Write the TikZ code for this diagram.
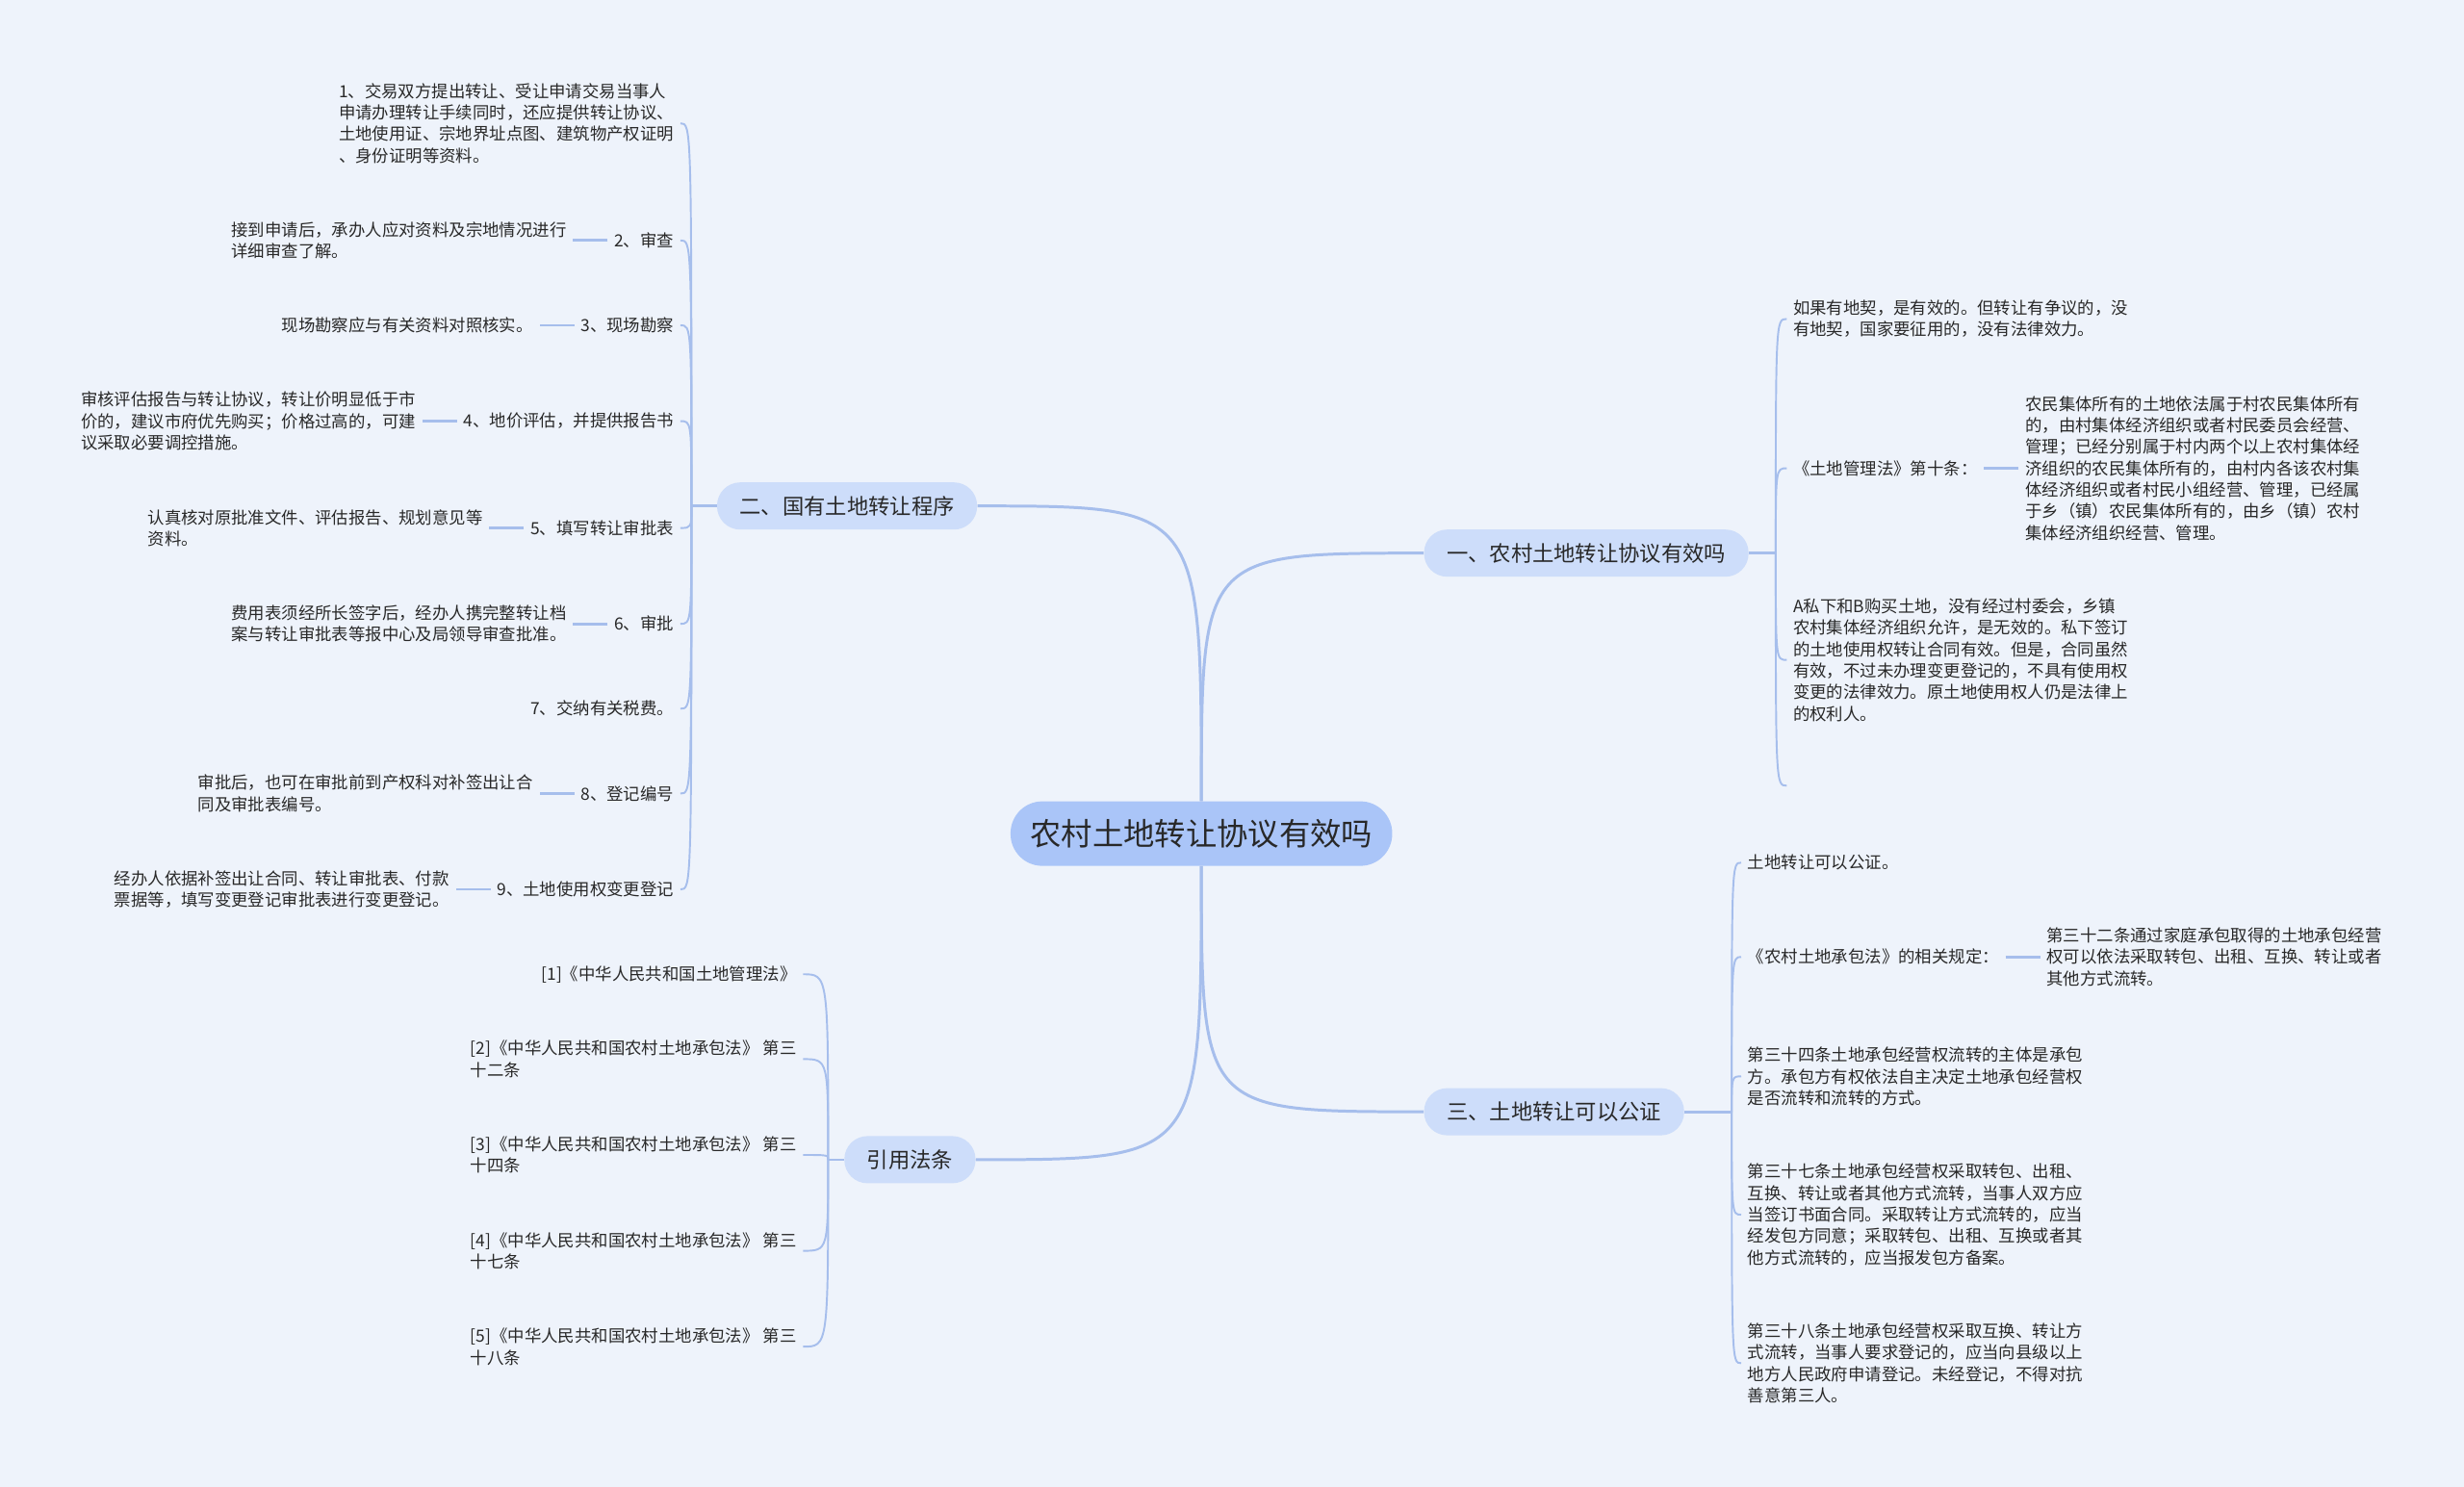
\documentclass[tikz,border=0pt]{standalone}
\usepackage{fontspec}
\setmainfont{Noto Sans CJK SC}
\usepackage{tikz}
\usetikzlibrary{positioning, calc}
\definecolor{paper}{RGB}{238, 243, 251}
\definecolor{rootfill}{RGB}{170, 197, 248}
\definecolor{branchfill}{RGB}{205, 221, 250}
\definecolor{wire}{RGB}{166, 190, 236}
\definecolor{ink}{RGB}{40, 40, 40}

\begin{document}
\begin{tikzpicture}[
    x=0.0326531cm, y=-0.0326531cm,
    root/.style={rectangle, rounded corners=0.66cm, fill=rootfill, minimum width=7.93cm, minimum height=1.34cm, text=ink, font=\fontsize{18.4pt}{22pt}\selectfont},
    branch/.style={rectangle, rounded corners=0.48cm, fill=branchfill, inner xsep=0.47cm, minimum height=0.98cm, text=ink, font=\fontsize{12.7pt}{15pt}\selectfont},
    leaf/.style={rectangle, inner xsep=0.13cm, inner ysep=2pt, align=left, text=ink, font=\fontsize{9.9pt}{12.7pt}\selectfont},
    trunk/.style={draw=wire, line width=1.7pt},
    twig/.style={draw=wire, line width=1.1pt},
    tie/.style={draw=wire, line width=1.6pt}
]
    \fill[paper] (0,0) rectangle (1568,946);
    \useasboundingbox (0,0) rectangle (1568,946);

    \node[root] (root) at (764.5,530.5) {农村土地转让协议有效吗};

    \node[branch, anchor=west] (rural) at (906,352) {一、农村土地转让协议有效吗};
    \node[branch, anchor=east] (state) at (622,322) {二、国有土地转让程序};
    \node[branch, anchor=west] (notary) at (906,707.5) {三、土地转让可以公证};
    \node[branch, anchor=east] (cite) at (621,738) {引用法条};

    \coordinate (stateS) at (440,322);
    \coordinate (ruralS) at (1130,352);
    \coordinate (notaryS) at (1102,707.5);
    \coordinate (citeS) at (527,738);

    % 二、国有土地转让程序
    \node[leaf, anchor=east] (s1) at (433,78.5) {1、交易双方提出转让、受让申请交易当事人\\申请办理转让手续同时，还应提供转让协议、\\土地使用证、宗地界址点图、建筑物产权证明\\、身份证明等资料。};
    \node[leaf, anchor=east] (s2) at (433,153) {2、审查};
    \node[leaf, left=0.72cm of s2] (s2d) {接到申请后，承办人应对资料及宗地情况进行\\详细审查了解。};
    \node[leaf, anchor=east] (s3) at (433,207) {3、现场勘察};
    \node[leaf, left=0.72cm of s3] (s3d) {现场勘察应与有关资料对照核实。};
    \node[leaf, anchor=east] (s4) at (433,268) {4、地价评估，并提供报告书};
    \node[leaf, left=0.72cm of s4] (s4d) {审核评估报告与转让协议，转让价明显低于市\\价的，建议市府优先购买；价格过高的，可建\\议采取必要调控措施。};
    \node[leaf, anchor=east] (s5) at (433,336) {5、填写转让审批表};
    \node[leaf, left=0.72cm of s5] (s5d) {认真核对原批准文件、评估报告、规划意见等\\资料。};
    \node[leaf, anchor=east] (s6) at (433,397) {6、审批};
    \node[leaf, left=0.72cm of s6] (s6d) {费用表须经所长签字后，经办人携完整转让档\\案与转让审批表等报中心及局领导审查批准。};
    \node[leaf, anchor=east] (s7) at (433,451) {7、交纳有关税费。};
    \node[leaf, anchor=east] (s8) at (433,505) {8、登记编号};
    \node[leaf, left=0.72cm of s8] (s8d) {审批后，也可在审批前到产权科对补签出让合\\同及审批表编号。};
    \node[leaf, anchor=east] (s9) at (433,566) {9、土地使用权变更登记};
    \node[leaf, left=0.72cm of s9] (s9d) {经办人依据补签出让合同、转让审批表、付款\\票据等，填写变更登记审批表进行变更登记。};

    % 一、农村土地转让协议有效吗
    \node[leaf, anchor=west] (r1) at (1137,203) {如果有地契，是有效的。但转让有争议的，没\\有地契，国家要征用的，没有法律效力。};
    \node[leaf, anchor=west] (r2) at (1137,298) {《土地管理法》第十条：};
    \node[leaf, right=0.72cm of r2] (r2d) {农民集体所有的土地依法属于村农民集体所有\\的，由村集体经济组织或者村民委员会经营、\\管理；已经分别属于村内两个以上农村集体经\\济组织的农民集体所有的，由村内各该农村集\\体经济组织或者村民小组经营、管理，已经属\\于乡（镇）农民集体所有的，由乡（镇）农村\\集体经济组织经营、管理。};
    \node[leaf, anchor=west] (r3) at (1137,420) {A私下和B购买土地，没有经过村委会，乡镇\\农村集体经济组织允许，是无效的。私下签订\\的土地使用权转让合同有效。但是，合同虽然\\有效，不过未办理变更登记的，不具有使用权\\变更的法律效力。原土地使用权人仍是法律上\\的权利人。};
    \coordinate (r4) at (1137,500);

    % 三、土地转让可以公证
    \node[leaf, anchor=west] (n1) at (1108,549) {土地转让可以公证。};
    \node[leaf, anchor=west] (n2) at (1108,609) {《农村土地承包法》的相关规定：};
    \node[leaf, right=0.72cm of n2] (n2d) {第三十二条通过家庭承包取得的土地承包经营\\权可以依法采取转包、出租、互换、转让或者\\其他方式流转。};
    \node[leaf, anchor=west] (n3) at (1108,685) {第三十四条土地承包经营权流转的主体是承包\\方。承包方有权依法自主决定土地承包经营权\\是否流转和流转的方式。};
    \node[leaf, anchor=west] (n4) at (1108,773) {第三十七条土地承包经营权采取转包、出租、\\互换、转让或者其他方式流转，当事人双方应\\当签订书面合同。采取转让方式流转的，应当\\经发包方同意；采取转包、出租、互换或者其\\他方式流转的，应当报发包方备案。};
    \node[leaf, anchor=west] (n5) at (1108,867.5) {第三十八条土地承包经营权采取互换、转让方\\式流转，当事人要求登记的，应当向县级以上\\地方人民政府申请登记。未经登记，不得对抗\\善意第三人。};

    % 引用法条
    \node[leaf, anchor=east] (law1) at (511,620) {[1]《中华人民共和国土地管理法》};
    \node[leaf, anchor=east] (law2) at (511,674) {[2]《中华人民共和国农村土地承包法》 第三\\十二条};
    \node[leaf, anchor=east] (law3) at (511,735) {[3]《中华人民共和国农村土地承包法》 第三\\十四条};
    \node[leaf, anchor=east] (law4) at (511,796) {[4]《中华人民共和国农村土地承包法》 第三\\十七条};
    \node[leaf, anchor=east] (law5) at (511,857) {[5]《中华人民共和国农村土地承包法》 第三\\十八条};

    \draw[trunk] (root.north) .. controls (root.north |- state.east) .. (state.east);
    \draw[trunk] (root.north) .. controls (root.north |- rural.west) .. (rural.west);
    \draw[trunk] (root.south) .. controls (root.south |- notary.west) .. (notary.west);
    \draw[trunk] (root.south) .. controls (root.south |- cite.east) .. (cite.east);

    \draw[tie] (state.west) -- (stateS);
    \draw[tie] (rural.east) -- (ruralS);
    \draw[tie] (notary.east) -- (notaryS);
    \draw[tie] (cite.west) -- (citeS);

    \draw[twig] (stateS) .. controls (stateS |- s1.east) .. (s1.east);
    \draw[twig] (stateS) .. controls (stateS |- s2.east) .. (s2.east);
    \draw[twig] (stateS) .. controls (stateS |- s3.east) .. (s3.east);
    \draw[twig] (stateS) .. controls (stateS |- s4.east) .. (s4.east);
    \draw[twig] (stateS) .. controls (stateS |- s5.east) .. (s5.east);
    \draw[twig] (stateS) .. controls (stateS |- s6.east) .. (s6.east);
    \draw[twig] (stateS) .. controls (stateS |- s7.east) .. (s7.east);
    \draw[twig] (stateS) .. controls (stateS |- s8.east) .. (s8.east);
    \draw[twig] (stateS) .. controls (stateS |- s9.east) .. (s9.east);

    \draw[twig] (ruralS) .. controls (ruralS |- r1.west) .. (r1.west);
    \draw[twig] (ruralS) .. controls (ruralS |- r2.west) .. (r2.west);
    \draw[twig] (ruralS) .. controls (ruralS |- r3.west) .. (r3.west);
    \draw[twig] (ruralS) .. controls (ruralS |- r4) .. (r4);

    \draw[twig] (notaryS) .. controls (notaryS |- n1.west) .. (n1.west);
    \draw[twig] (notaryS) .. controls (notaryS |- n2.west) .. (n2.west);
    \draw[twig] (notaryS) .. controls (notaryS |- n3.west) .. (n3.west);
    \draw[twig] (notaryS) .. controls (notaryS |- n4.west) .. (n4.west);
    \draw[twig] (notaryS) .. controls (notaryS |- n5.west) .. (n5.west);

    \draw[twig] (citeS) .. controls (citeS |- law1.east) .. (law1.east);
    \draw[twig] (citeS) .. controls (citeS |- law2.east) .. (law2.east);
    \draw[twig] (citeS) .. controls (citeS |- law3.east) .. (law3.east);
    \draw[twig] (citeS) .. controls (citeS |- law4.east) .. (law4.east);
    \draw[twig] (citeS) .. controls (citeS |- law5.east) .. (law5.east);

    \draw[tie] (s2) -- (s2d);
    \draw[tie] (s3) -- (s3d);
    \draw[tie] (s4) -- (s4d);
    \draw[tie] (s5) -- (s5d);
    \draw[tie] (s6) -- (s6d);
    \draw[tie] (s8) -- (s8d);
    \draw[tie] (s9) -- (s9d);
    \draw[tie] (r2) -- (r2d);
    \draw[tie] (n2) -- (n2d);
\end{tikzpicture}
\end{document}
